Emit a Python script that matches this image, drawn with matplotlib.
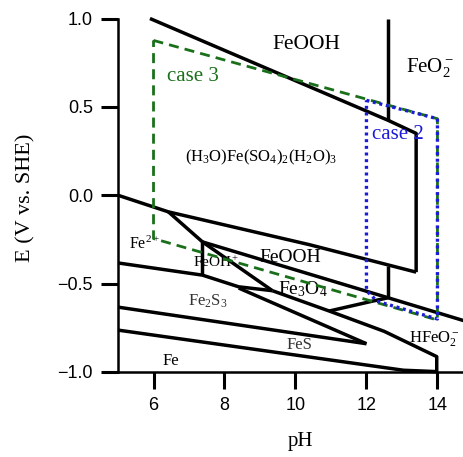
import matplotlib
matplotlib.use("Agg")
import matplotlib.pyplot as plt

plt.rcParams["mathtext.fontset"] = "custom"
plt.rcParams["mathtext.rm"] = "Liberation Serif"
plt.rcParams["mathtext.it"] = "Liberation Serif:italic"

# boundary lines (pH, E)
ph_a = [5.0, 6.42, 10.4, 13.4]
e_a = [0.0, -0.094, -0.28, -0.435]

ph_box = [13.4, 13.4, 12.61, 5.9]
e_box = [-0.435, 0.35, 0.424, 1.0]

ph_feo2 = [12.61, 12.61]
e_feo2 = [1.0, 0.424]

ph_vert = [12.61, 12.61]
e_vert = [-0.40, -0.58]

ph_c = [7.38, 12.61, 14.75]
e_c = [-0.264, -0.58, -0.71]

ph_d = [6.42, 7.38, 9.35]
e_d = [-0.094, -0.264, -0.54]

ph_feoh = [7.38, 7.38]
e_feoh = [-0.264, -0.452]

ph_l1 = [5.0, 7.38, 8.4, 9.35]
e_l1 = [-0.383, -0.452, -0.518, -0.54]

ph_e = [9.35, 10.95, 12.5, 13.98, 13.98]
e_e = [-0.54, -0.655, -0.77, -0.913, -1.0]

ph_v = [10.95, 12.15, 12.61]
e_v = [-0.655, -0.60, -0.58]

ph_w = [8.4, 12.0]
e_w = [-0.525, -0.84]

ph_l2 = [5.0, 12.0]
e_l2 = [-0.633, -0.84]

ph_l3 = [5.0, 13.04, 14.0]
e_l3 = [-0.763, -0.99, -0.998]

# measurement windows
ph_case3 = [6.0, 14.0, 14.0, 6.0, 6.0]
e_case3 = [0.876, 0.433, -0.706, -0.245, 0.876]

ph_case2 = [12.0, 14.0, 14.0, 12.3, 12.0, 12.0]
e_case2 = [0.537, 0.433, -0.70, -0.60, -0.54, 0.537]

x_ticks = [6, 8, 10, 12, 14]
y_ticks = [-1.0, -0.5, 0.0, 0.5, 1.0]

fig = plt.figure(figsize=(4.63, 4.57), dpi=100)
ax = fig.add_axes([0.2549, 0.186, 0.7451, 0.7735])

lines = [
    (ph_a, e_a), (ph_box, e_box), (ph_feo2, e_feo2), (ph_vert, e_vert),
    (ph_c, e_c), (ph_d, e_d), (ph_feoh, e_feoh), (ph_l1, e_l1),
    (ph_e, e_e), (ph_v, e_v), (ph_w, e_w), (ph_l2, e_l2), (ph_l3, e_l3),
]
for xs, ys in lines:
    ax.plot(xs, ys, color="black", lw=2.5, solid_capstyle="butt",
            clip_on=False, zorder=3)

ax.plot(ph_case3, e_case3, color="#1a701a", lw=2.0,
        dashes=(3.6, 2.2), zorder=4, clip_on=False)
ax.plot(ph_case2, e_case2, color="#1c1cd8", lw=2.4,
        dashes=(0.9, 1.1), zorder=5, clip_on=False)

serif = "Liberation Serif"
ax.text(10.3, 0.855, "FeOOH", fontsize=15.5, family=serif, ha="center", va="center")
ax.text(13.8, 0.72, r"FeO$_2^-$", fontsize=15, family=serif, ha="center", va="center")
ax.text(7.1, 0.67, "case 3", fontsize=15, family=serif, color="#1a701a",
        ha="center", va="center")
ax.text(12.15, 0.345, "case 2", fontsize=15, family=serif, color="#1c1cd8",
        ha="left", va="center", zorder=6)
ax.text(9.03, 0.215, r"(H$_3$O)Fe(SO$_4$)$_2$(H$_2$O)$_3$", fontsize=12,
        family=serif, ha="center", va="center")
ax.text(5.76, -0.28, r"Fe$^{2+}$", fontsize=11.5, family=serif, ha="center", va="center")
ax.text(7.76, -0.38, r"FeOH$^+$", fontsize=11, family=serif, ha="center", va="center")
ax.text(9.85, -0.35, "FeOOH", fontsize=14, family=serif, ha="center", va="center")
ax.text(10.2, -0.53, r"Fe$_3$O$_4$", fontsize=14, family=serif, ha="center", va="center")
ax.text(7.54, -0.60, r"Fe$_2$S$_3$", fontsize=12, family=serif, color="#333333",
        ha="center", va="center")
ax.text(10.1, -0.85, "FeS", fontsize=12, family=serif, color="#333333",
        ha="center", va="center")
ax.text(6.5, -0.94, "Fe", fontsize=12, family=serif, ha="center", va="center")
ax.text(13.9, -0.81, r"HFeO$_2^-$", fontsize=12, family=serif, ha="center", va="center")

ax.set_xlim(5.0, 14.72)
ax.set_ylim(-1.0, 1.0)
ax.set_xticks(x_ticks)
ax.set_yticks(y_ticks)
ax.set_yticklabels([f"{v:.1f}".replace("-", "\u2212") for v in y_ticks])

for side in ["top", "right"]:
    ax.spines[side].set_visible(False)
for side in ["left", "bottom"]:
    ax.spines[side].set_linewidth(1.8)
ax.tick_params(direction="out", length=12, width=2.2, pad=6,
               labelsize=13, labelfontfamily="Liberation Sans")

ax.set_xlabel("pH", fontsize=15, family=serif)
ax.set_ylabel("E (V vs. SHE)", fontsize=16, family=serif)
ax.xaxis.set_label_coords(0.53, -0.17)
ax.yaxis.set_label_coords(-0.24, 0.492)

fig.savefig("out.png", dpi=100)
